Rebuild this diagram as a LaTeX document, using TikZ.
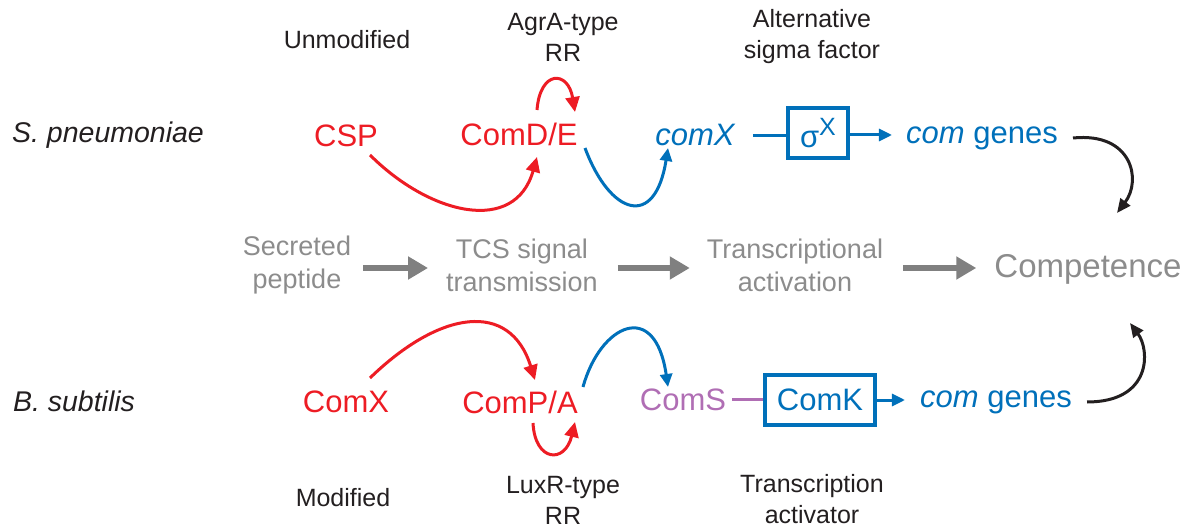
\documentclass[tikz,border=0pt]{standalone}
\usepackage{fontspec}
\setmainfont{Liberation Sans}
\usetikzlibrary{arrows.meta,calc}
\definecolor{cred}{RGB}{237,28,36}
\definecolor{cblue}{RGB}{0,112,186}
\definecolor{cpurple}{RGB}{176,110,180}
\definecolor{cgreytxt}{RGB}{140,140,140}
\definecolor{cgreyarr}{RGB}{128,128,128}
\definecolor{cblack}{RGB}{35,31,32}
\tikzset{
  lbl/.style={inner sep=0pt, text=cblack, align=center, font=\fontsize{25}{31}\selectfont},
  org/.style={inner sep=0pt, text=cblack, font=\fontsize{28.5}{32}\selectfont\itshape},
  mol/.style={inner sep=0pt, anchor=base, font=\fontsize{31}{36}\selectfont},
  stage/.style={inner sep=0pt, text=cgreytxt, align=center, font=\fontsize{27}{33}\selectfont},
  redarr/.style={draw=cred, line width=3pt, -{Triangle[length=15pt,width=14pt]}},
  bluearr/.style={draw=cblue, line width=3pt, -{Triangle[length=13pt,width=12pt]}},
  blackarr/.style={draw=cblack, line width=3pt, -{Triangle[length=14pt,width=12pt]}},
  greyarr/.style={draw=cgreyarr, line width=6pt, -{Triangle[length=20pt,width=22pt]}},
  genebox/.style={draw=cblue, line width=4pt, text=cblue, inner sep=0pt, font=\fontsize{31}{36}\selectfont},
}
\begin{document}
\begin{tikzpicture}[x=1pt,y=-1pt]
\useasboundingbox (0,0) rectangle (1186,529);
% top labels
\node[lbl] (unmod) at (347,40) {Unmodified};
\node[lbl] (agra) at (563,37) {AgrA-type\\RR};
\node[lbl] (alt) at (812,37) {Alternative\\sigma factor};
% bottom labels
\node[lbl] (mod) at (343,498) {Modified};
\node[lbl] (luxr) at (563,500) {LuxR-type\\RR};
\node[lbl] (tact) at (812,499) {Transcription\\activator};
% organisms
\node[org] (spn) at (108,135) {S. pneumoniae};
\node[org] (bsu) at (74,401) {B. subtilis};
% top row
\node[mol, text=cred] (csp) at (346,147) {CSP};
\node[mol, text=cred] (comde) at (519,146) {ComD/E};
\node[mol, text=cblue] (comxg) at (695,146) {\itshape comX};
\node[genebox, minimum width=60pt, minimum height=50pt] (sigma) at (818,133) {\raisebox{-4pt}{σ}\raisebox{8pt}{\fontsize{25}{30}\selectfont X}};
\node[mol, text=cblue] (genes1) at (982,144) {\itshape com\upshape\ genes};
% middle row
\node[stage] (sec) at (297,265) {Secreted\\peptide};
\node[stage] (tcs) at (522,265) {TCS signal\\transmission};
\node[stage] (trans) at (795,265) {Transcriptional\\activation};
\node[stage, anchor=base, font=\fontsize{33}{36}\selectfont] (comp) at (1088,278) {Competence};
% bottom row
\node[mol, text=cred] (comx) at (346,412) {ComX};
\node[mol, text=cred] (compa) at (520,413) {ComP/A};
\node[mol, text=cpurple] (coms) at (683,410) {ComS};
\node[genebox, minimum width=110pt, minimum height=50pt] (comk) at (820,400) {ComK};
\node[mol, text=cblue] (genes2) at (996,407) {\itshape com\upshape\ genes};

% grey flow arrows
\draw[greyarr, shorten <=12pt, shorten >=18pt] ([yshift=-3pt]sec.east) -- ([yshift=-3pt]tcs.west |- sec.east);
\draw[greyarr, shorten <=20pt, shorten >=17pt] ([yshift=-3pt]tcs.east) -- ([yshift=-3pt]trans.west |- tcs.east);
\draw[greyarr, shorten <=20pt, shorten >=18pt] ([yshift=-3pt]trans.east) -- ([yshift=-3pt]comp.west |- trans.east);

% top red arcs
\draw[redarr] ([shift={(24,8)}]csp.base) .. controls (430,215) and (515,235) .. ([shift={(18,11)}]comde.base);
\draw[redarr] ([shift={(18,-36)}]comde.base) .. controls (540,70) and (568,70) .. ([shift={(56,-34)}]comde.base);
% blue arc ComD/E -> comX
\draw[bluearr] ([shift={(66,2)}]comde.base) .. controls (610,215) and (655,230) .. ([shift={(-27,2)}]comxg.base);
% comX -- sigma -> genes
\draw[draw=cblue, line width=3pt, shorten <=18pt] (comxg.east) -- (sigma.west |- comxg.east);
\draw[bluearr, shorten >=14pt] ([yshift=-2pt]sigma.east) -- ([yshift=-2pt]sigma.east -| genes1.west);
% black arcs to competence
\draw[blackarr] ([shift={(91,-6)}]genes1.base) .. controls (1132,132) and (1142,180) .. ([shift={(29,-65)}]comp.base);
\draw[blackarr] ([shift={(91,-5)}]genes2.base) .. controls (1152,402) and (1150,350) .. ([shift={(42,45)}]comp.base);

% bottom red arcs
\draw[redarr] ([shift={(24,-34)}]comx.base) .. controls (440,310) and (510,300) .. ([shift={(15,-33)}]compa.base);
\draw[redarr] ([shift={(13,10)}]compa.base) .. controls (535,462) and (565,464) .. ([shift={(55,9)}]compa.base);
% blue arc ComP/A -> ComS
\draw[bluearr] ([shift={(63,-26)}]compa.base) .. controls (600,325) and (655,298) .. ([shift={(-15,-23)}]coms.base);
% ComS -- ComK -> genes
\draw[draw=cpurple, line width=3pt, shorten <=6pt] (coms.east) -- (comk.west |- coms.east);
\draw[bluearr, shorten >=15pt] (comk.east) -- (comk.east -| genes2.west);
\end{tikzpicture}
\end{document}
